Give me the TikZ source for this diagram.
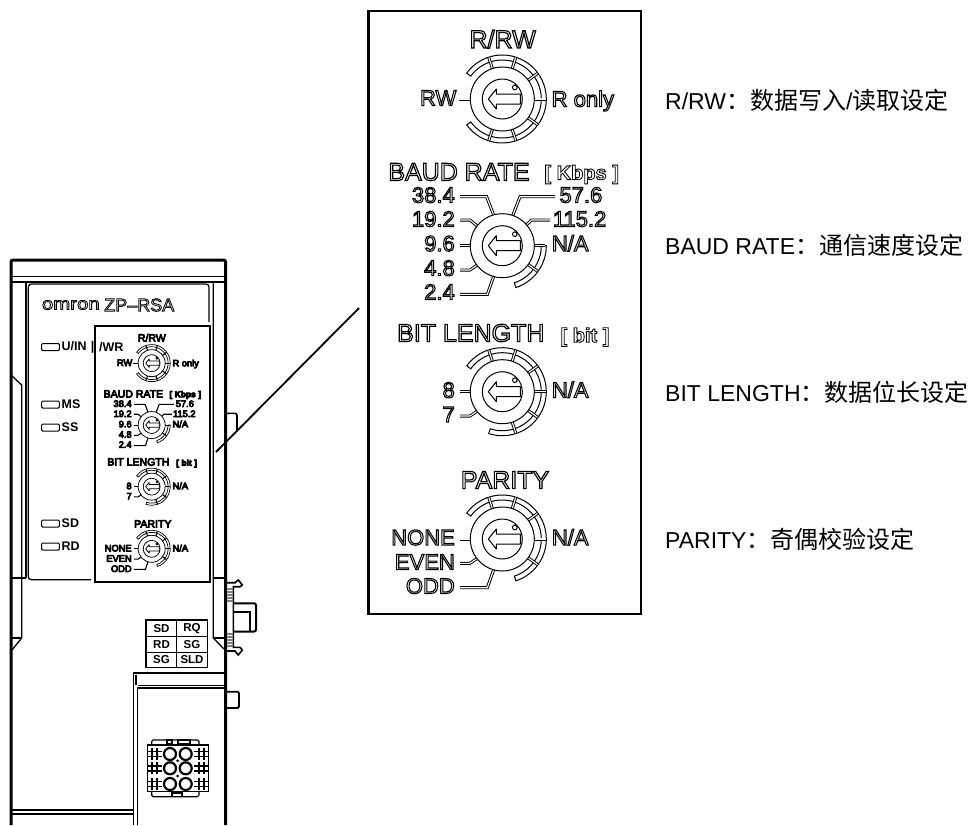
\documentclass[tikz,border=0pt]{standalone}
\usepackage{fontspec}
\setmainfont{Liberation Sans}
\newfontfamily\cjkfont{Noto Sans CJK SC}
\usetikzlibrary{arrows.meta, calc}

% text drawn as an outline, the mode is changed per panel
\def\outlw{1.15}
\def\outlmode{1 Tr \outlw\space w}
\newcommand{\outl}[1]{\special{pdf:code \outlmode}#1\special{pdf:code 0 Tr}}
\newcommand{\pxfont}[1]{\fontsize{#1}{#1}\selectfont}
\newcommand{\cjktext}[1]{{\cjkfont\pxfont{24}#1}}

\tikzset{
  dialtitle/.style={inner sep=0pt, font=\pxfont{25}, transform shape},
  dialunit/.style={inner sep=0pt, font=\pxfont{20}\bfseries\def\outlw{0.85}, transform shape},
  diallabel/.style={inner sep=0pt, yshift=-3pt, font=\pxfont{22}\def\outlw{1.05}, transform shape},
  dialleft/.style={diallabel, anchor=mid east},
  dialright/.style={diallabel, anchor=mid west},
  dialring/.style={line width=1pt, fill=white},
  dialdouble/.style={line width=0.95pt, double, double distance=1.1pt},
  dialthin/.style={line width=1pt},
  boxline/.style={line width=2.2pt, fill=white},
  bodythick/.style={line width=3pt},
  bodyline/.style={line width=1.3pt},
  ledrect/.style={line width=1pt, rounded corners=1pt},
  ledlabel/.style={inner sep=0pt, anchor=west, font=\pxfont{12.5}\bfseries},
  termlabel/.style={inner sep=0pt, font=\pxfont{11.5}\bfseries},
  sidelabel/.style={inner sep=0pt, anchor=west, font=\pxfont{23}},
}

% ring with its closed ends and dividers: x, y, from, to, dividers
\newcommand{\dialring}[5]{%
  \begin{scope}[shift={(#1,#2)}]
    \draw[dialring] (#3:39) -- (#3:44) arc[start angle=#3, end angle=#4, radius=44]
      -- (#4:39) arc[start angle=#4, end angle=#3, radius=39] -- cycle;
    \foreach \a in {#5} \draw[dialdouble] (\a:30) -- (\a:43.4);
  \end{scope}}

% knob with the arrow on top
\newcommand{\dialknob}[2]{%
  \begin{scope}[shift={(#1,#2)}]
    \draw[dialthin, fill=white] (0,0) circle[radius=32];
    \draw[dialthin] (0,0) circle[radius=20];
    \draw[dialthin, line join=round] (-14,0) -- (-6,10) -- (-6,5) -- (18,5) -- (18,-5)
      -- (-6,-5) -- (-6,-10) -- cycle;
    \draw[dialthin] (12.5,11.5) circle[radius=2.3];
  \end{scope}}

% everything inside a panel, coordinates from its top left corner
\newcommand{\panelface}{%
  % ----- R/RW -----
  \node[dialtitle] (\pfx-rwtitle) at (134.7,-28) {\outl{R/RW}};
  \dialring{134.3}{-88}{144}{-144}{108,72,36,0,-36,-72,-108}
  \draw[dialdouble] (91,-88) -- (105,-88);
  \dialknob{134.3}{-88}
  \node[dialleft] (\pfx-rw) at (88.5,-89) {\outl{RW}};
  \node[dialright] (\pfx-ronly) at (183.5,-90) {\outl{R only}};
  % ----- BAUD RATE -----
  \node[dialtitle] (\pfx-baudtitle) at (91,-161) {\outl{BAUD RATE}};
  \node[dialunit] (\pfx-baudunit) at (213.7,-163.5) {\outl{[ Kbps ]}};
  \dialring{134.3}{-234.7}{0}{-72}{-36}
  \begin{scope}[shift={(134.3,-234.7)}]
    \draw[dialdouble] (-42.3,49) -- (-15.7,49) -- (-8,29);
    \draw[dialdouble] (52.7,49) -- (17.7,49) -- (10,29);
    \draw[dialdouble] (-42.3,25.7) -- (-32.3,25.7) -- (-23,18);
    \draw[dialdouble] (47.7,25.7) -- (29.3,25.7) -- (21,18);
    \draw[dialdouble] (-42.3,0) -- (-30,0);
    \draw[dialdouble] (-42.3,-24.3) -- (-32.3,-24.3) -- (-23,-18);
    \draw[dialdouble] (-42.3,-48.7) -- (-15,-48.7) -- (-8,-29);
    \draw[dialdouble] (30,0) -- (43,0);
  \end{scope}
  \dialknob{134.3}{-234.7}
  \node[dialleft] (\pfx-b384) at (87,-186) {\outl{38.4}};
  \node[dialleft] (\pfx-b192) at (87,-210) {\outl{19.2}};
  \node[dialleft] (\pfx-b96) at (87,-234.5) {\outl{9.6}};
  \node[dialleft] (\pfx-b48) at (87,-259) {\outl{4.8}};
  \node[dialleft] (\pfx-b24) at (87,-283) {\outl{2.4}};
  \node[dialright] (\pfx-b576) at (191.3,-186) {\outl{57.6}};
  \node[dialright] (\pfx-b1152) at (184.7,-210) {\outl{115.2}};
  \node[dialright] (\pfx-bna) at (183.7,-234.5) {\outl{N/A}};
  % ----- BIT LENGTH -----
  \node[dialtitle] (\pfx-bittitle) at (102.8,-322) {\outl{BIT LENGTH}};
  \node[dialunit] (\pfx-bitunit) at (217,-326) {\outl{[ bit ]}};
  \dialring{134.3}{-380.7}{144}{-108}{108,72,36,0,-36,-72}
  \begin{scope}[shift={(134.3,-380.7)}]
    \draw[dialdouble] (-42.3,0) -- (-30,0);
    \draw[dialdouble] (-42.3,-24.3) -- (-32.3,-24.3) -- (-23,-18);
  \end{scope}
  \dialknob{134.3}{-380.7}
  \node[dialleft] (\pfx-b8) at (87,-381) {\outl{8}};
  \node[dialleft] (\pfx-b7) at (87,-405.5) {\outl{7}};
  \node[dialright] (\pfx-bitna) at (183.7,-381) {\outl{N/A}};
  % ----- PARITY -----
  \node[dialtitle] (\pfx-partitle) at (137,-469) {\outl{PARITY}};
  \dialring{134.3}{-528}{144}{-72}{108,72,36,0,-36}
  \begin{scope}[shift={(134.3,-528)}]
    \draw[dialdouble] (-42.3,0) -- (-30,0);
    \draw[dialdouble] (-42.3,-24.3) -- (-32.3,-24.3) -- (-23,-18);
    \draw[dialdouble] (-42.3,-48.7) -- (-15,-48.7) -- (-8,-29);
  \end{scope}
  \dialknob{134.3}{-528}
  \node[dialleft] (\pfx-none) at (87,-528.5) {\outl{NONE}};
  \node[dialleft] (\pfx-even) at (87,-553) {\outl{EVEN}};
  \node[dialleft] (\pfx-odd) at (87,-577) {\outl{ODD}};
  \node[dialright] (\pfx-parna) at (183.7,-528.5) {\outl{N/A}};
}

\begin{document}
\begin{tikzpicture}[x=1pt, y=1pt]
  \useasboundingbox (0,0) rectangle (976,-825);

  % ----- device body -----
  \draw[bodythick, rounded corners=2pt] (11,-825) -- (11,-260) -- (225.5,-260) -- (225.5,-825);
  \draw[bodyline] (11,-276.7) -- (225.5,-276.7);
  \draw[line width=1.8pt] (11,-282) -- (225.5,-282);
  \draw[bodyline] (26,-282) -- (26,-578);
  \draw[bodyline] (213.3,-282) -- (213.3,-638) -- (224,-649);
  \draw[bodyline] (11,-375) -- (21.7,-385) -- (21.7,-638) -- (12,-650);
  \draw[bodyline] (11,-578) -- (26,-578);
  \draw[bodyline] (213.3,-578) -- (225.5,-578);
  \draw[bodyline] (12,-638) -- (21.7,-638);
  \draw[bodyline] (213.3,-638) -- (225.5,-638);

  % ----- label plate -----
  \draw[bodyline, rounded corners=3pt] (91,-579.7) -- (28.3,-579.7) -- (28.3,-284) -- (209,-284) -- (209,-322);

  % ----- side tabs -----
  \draw[line width=1.6pt, rounded corners=2pt] (226,-413.3) -- (237,-413.3) -- (237,-430);
  \draw[line width=1.8pt, rounded corners=1.5pt] (226.7,-691.7) -- (239,-691.7) -- (239,-708) -- (226.7,-708);
  \draw[line width=1.6pt] (226.7,-582.7) -- (235,-582.7) -- (238.3,-580) -- (242.3,-585) -- (240,-586.7) -- (233.3,-586.7)
    -- (233.3,-647.3) -- (240,-647.3) -- (242.3,-650) -- (238.3,-655) -- (235,-651) -- (226.7,-651);
  \draw[line width=2pt, rounded corners=2pt] (233.5,-603.3) -- (256,-603.3) -- (256,-631.5) -- (233.5,-631.5);
  \draw[bodyline] (233.5,-612) -- (250,-612) -- (250,-631);
  \foreach \y in {589,592,595,598,601,634,637,640,643,646}
    \draw[gray, line width=1.2pt] (226.7,-\y) -- (233,-\y);

  % ----- brand and leds -----
  \node[inner sep=0pt, anchor=west] (brand) at (41.7,-305) {\pxfont{17}\def\outlw{0.75}\scalebox{1.2}[1]{\outl{omron}}};
  \node[inner sep=0pt, anchor=west, font=\pxfont{18}\def\outlw{0.8}] (model) at (104,-305) {\outl{ZP–RSA}};
  \foreach \name/\y/\txt in {uin/347/{U/IN\,\,|}, ms/404.5/MS, ss/427.5/SS, sd/523.5/SD, rd/546.5/RD} {
    \draw[ledrect] (41.7,-\y+3.5) rectangle (59.3,-\y-3.5);
    \node[ledlabel] (led-\name) at (61.5,-\y) {\txt};
  }

  % ----- small panel -----
  \draw[boxline] (95,-326) rectangle (210,-582.3);
  \node[ledlabel] (led-pwr) at (99,-347) {/WR};
  \begin{scope}[shift={(95,-326)}, scale=0.422, transform shape,
      dialring/.style={line width=0.7pt, fill=white},
      dialdouble/.style={line width=1.1pt},
      dialthin/.style={line width=0.75pt}]
    \def\pfx{small}
    \def\outlmode{2 Tr 1.8 w}
    \panelface
  \end{scope}

  % ----- terminal table -----
  \draw[line width=1.6pt] (146,-620) rectangle (207.3,-667.3);
  \draw[line width=1.4pt] (146,-636.7) -- (207.3,-636.7) (146,-652.3) -- (207.3,-652.3) (176.7,-620) -- (176.7,-667.3);
  \foreach \name/\x/\y/\txt in {sdt/161.5/628.5/SD, rq/192/628.5/RQ, rdt/161.5/644.5/RD, sgr/192/644.5/SG, sgl/161.5/660/SG, sld/192/660/SLD}
    \node[termlabel] (term-\name) at (\x,-\y) {\txt};

  % ----- connector housing -----
  \draw[line width=1.8pt] (133.5,-825) -- (133.5,-673.3) -- (225.5,-673.3);
  \draw[bodyline] (137.7,-825) -- (137.7,-688) -- (224,-688);
  \draw[bodyline] (137.7,-685.5) -- (224,-685.5);
  \draw[bodyline] (136,-675) -- (136,-685);
  \draw[bodyline] (12,-810) -- (133.5,-810) (12,-814) -- (133.5,-814);

  % ----- connector -----
  \draw[line width=1.1pt, rounded corners=1.5pt] (151.7,-745) -- (151.7,-740) -- (199,-740) -- (199,-745)
    (151.7,-792) -- (151.7,-796.7) -- (199,-796.7) -- (199,-792);
  \draw[line width=1.4pt] (147.3,-745) rectangle (208.3,-791.7);
  \draw[line width=1.1pt] (167,-740) rectangle (172,-744) (178,-740) rectangle (190,-744) (172,-793) rectangle (182,-796.7);
  \foreach \y in {754,768.3,784} {
    \draw[line width=1.5pt] (147.3,-\y+2.5) -- (162,-\y+2.5) (147.3,-\y-2.5) -- (162,-\y-2.5);
    \draw[line width=1.5pt] (194,-\y+2.5) -- (208.3,-\y+2.5) (194,-\y-2.5) -- (208.3,-\y-2.5);
    \draw[line width=1.5pt] (152,-\y+6) -- (152,-\y-6) (157,-\y+6) -- (157,-\y-6) (199,-\y+6) -- (199,-\y-6) (204,-\y+6) -- (204,-\y-6);
    \foreach \x in {170,185.7}
      \draw[line width=2.2pt, fill=white] (\x,-\y) circle[radius=6];
  }
  \fill (177.7,-760.7) circle[radius=1.5] (177.7,-776) circle[radius=1.5];

  % ----- leader to the enlarged panel -----
  \coordinate (leadA) at (359,-308);
  \coordinate (leadB) at (216,-452);
  \draw[line width=1.8pt] (leadA) -- (leadB);

  % ----- enlarged panel -----
  \draw[boxline] (368.5,-11) rectangle (640.7,-614);
  \begin{scope}[shift={(368,-11)}]
    \def\pfx{big}
    \panelface
  \end{scope}

  % ----- side labels -----
  \node[sidelabel] (side-rw) at (665,-100) {R/RW\cjktext{：数据写入}/\cjktext{读取设定}};
  \node[sidelabel] (side-baud) at (665,-245) {BAUD RATE\cjktext{：通信速度设定}};
  \node[sidelabel] (side-bit) at (665,-392) {BIT LENGTH\cjktext{：数据位长设定}};
  \node[sidelabel] (side-par) at (665,-539) {PARITY\cjktext{：奇偶校验设定}};
\end{tikzpicture}
\end{document}
